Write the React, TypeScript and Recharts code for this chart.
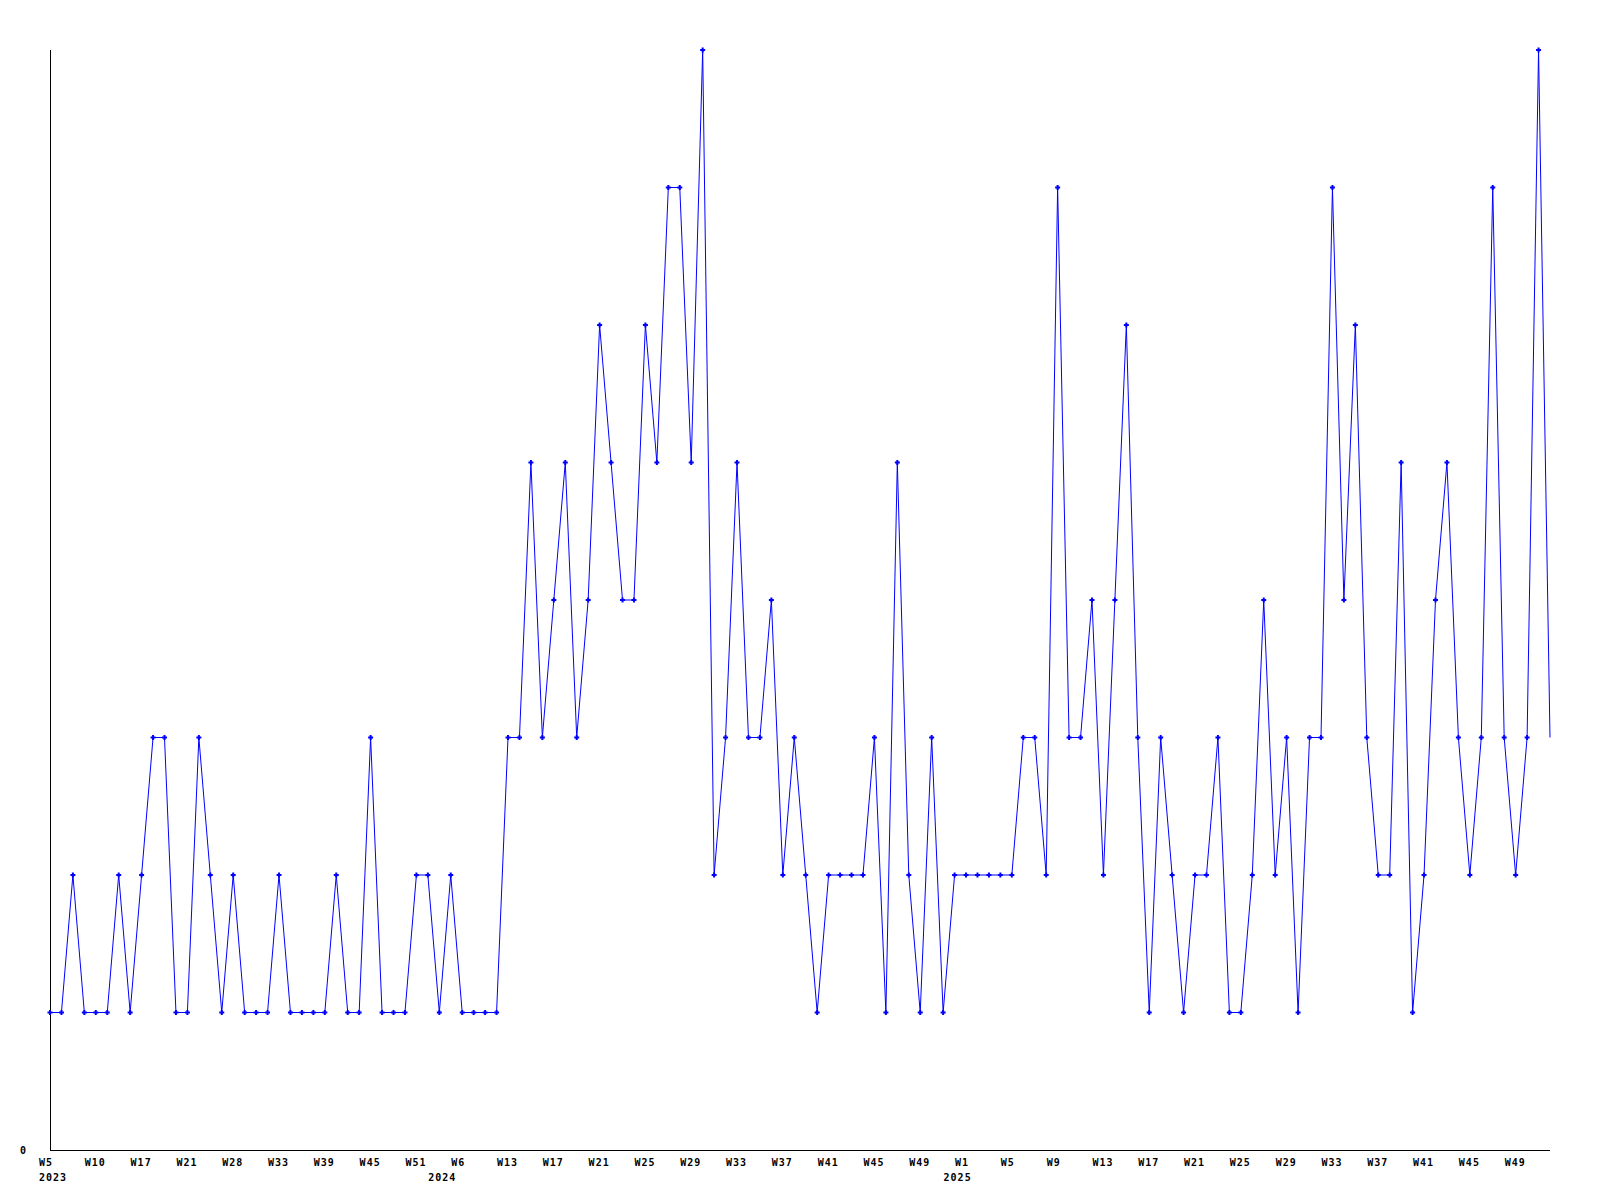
import { LineChart, Line, XAxis, YAxis } from 'recharts'

// ISO week numbers present in the data, per year
const weeks2023 = [5, 6, 7, 8, 10, 11, 13, 15, 17, 18, 19, 20, 21, 23, 25, 26, 28, 29, 30, 32, 33, 35, 36, 38, 39, 40, 42, 43, 45, 46, 47, 49, 51, 52]
const weeks2024 = [1, 3, 6, 8, 10, 11, 13, 14, 15, 16, 17, 18, 19, 20, 21, 22, 23, 24, 25, 26, 27, 28, 29, 30, 31, 32, 33, 34, 35, 36, 37, 38, 39, 40, 41, 42, 43, 44, 45, 46, 47, 48, 49, 50, 51, 52]
const weeks2025 = [1, 2, 3, 4, 5, 6, 7, 8, 9, 10, 11, 12, 13, 14, 15, 16, 17, 18, 19, 20, 21, 22, 23, 24, 25, 26, 27, 28, 29, 30, 31, 32, 33, 34, 35, 36, 37, 38, 39, 40, 41, 42, 43, 44, 45, 46, 47, 48, 49, 50, 51, 52]

const counts = [
  1, 1, 2, 1, 1, 1, 2, 1, 2, 3,
  3, 1, 1, 3, 2, 1, 2, 1, 1, 1,
  2, 1, 1, 1, 1, 2, 1, 1, 3, 1,
  1, 1, 2, 2, 1, 2, 1, 1, 1, 1,
  3, 3, 5, 3, 4, 5, 3, 4, 6, 5,
  4, 4, 6, 5, 7, 7, 5, 8, 2, 3,
  5, 3, 3, 4, 2, 3, 2, 1, 2, 2,
  2, 2, 3, 1, 5, 2, 1, 3, 1, 2,
  2, 2, 2, 2, 2, 3, 3, 2, 7, 3,
  3, 4, 2, 4, 6, 3, 1, 3, 2, 1,
  2, 2, 3, 1, 1, 2, 4, 2, 3, 1,
  3, 3, 7, 4, 6, 3, 2, 2, 5, 1,
  2, 4, 5, 3, 2, 3, 7, 3, 2, 3,
  8, 3,
]

// year caption shown under the axis at these categories
const yearMarks: Record<string, string> = {
  '2023-W5': '2023',
  '2024-W1': '2024',
  '2024-W52': '2025',
}

const categories = [
  ...weeks2023.map((w) => `2023-W${w}`),
  ...weeks2024.map((w) => `2024-W${w}`),
  ...weeks2025.map((w) => `2025-W${w}`),
]

const data = categories.map((c, i) => ({ key: c, count: counts[i] }))

const FONT = '"DejaVu Sans Mono", monospace'
const BLUE = '#0000ff'

function WeekTick(props: any) {
  const { x, y, payload } = props
  const idx = categories.indexOf(payload.value)
  const week = String(payload.value).split('-')[1]
  const year = yearMarks[payload.value]
  return (
    <g>
      {idx % 4 === 0 && (
        <text x={x - 11} y={y + 16} fontFamily={FONT} fontWeight="bold" fontSize={10} letterSpacing={1} fill="#000">
          {week}
        </text>
      )}
      {year && (
        <text x={x - 11} y={y + 31} fontFamily={FONT} fontWeight="bold" fontSize={10} letterSpacing={1} fill="#000">
          {year}
        </text>
      )}
    </g>
  )
}

function CountTick(props: any) {
  const { y, payload } = props
  return (
    <text x={26} y={y + 4} textAnchor="end" fontFamily={FONT} fontWeight="bold" fontSize={10} fill="#000">
      {payload.value}
    </text>
  )
}

function PlusDot(props: any) {
  const { cx, cy, index } = props
  if (index === data.length - 1 || cx == null) return <g key={`d${index}`} />
  return (
    <g key={`d${index}`} fill={BLUE}>
      <rect x={cx - 2.5} y={cy - 1} width={5} height={2} />
      <rect x={cx - 1} y={cy - 2.5} width={2} height={5} />
    </g>
  )
}

export default function App() {
  return (
    <div style={{ position: 'absolute', left: 0, top: 0, background: '#fff' }}>
      <LineChart width={1600} height={1200} data={data} margin={{ top: 50, right: 50, bottom: 0, left: 0 }}>
        <XAxis
          dataKey="key"
          interval={0}
          tickLine={false}
          tickSize={0}
          tickMargin={0}
          height={50}
          axisLine={{ stroke: '#000', strokeWidth: 1, shapeRendering: 'crispEdges' }}
          tick={<WeekTick />}
        />
        <YAxis
          domain={[0, 8]}
          ticks={[0]}
          width={50}
          tickLine={false}
          axisLine={{ stroke: '#000', strokeWidth: 1, shapeRendering: 'crispEdges' }}
          tick={<CountTick />}
        />
        <Line
          type="linear"
          dataKey="count"
          stroke={BLUE}
          strokeWidth={1}
          dot={<PlusDot />}
          activeDot={false}
          isAnimationActive={false}
        />
      </LineChart>
    </div>
  )
}
